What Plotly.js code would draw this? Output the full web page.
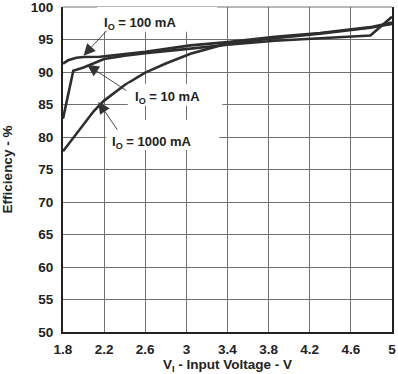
<!DOCTYPE html>
<html>
<head>
<meta charset="utf-8">
<script src="https://cdn.plot.ly/plotly-3.0.1.min.js"></script>
<style>html,body{margin:0;padding:0;background:#fff;}#chart{width:398px;height:374px;}</style>
</head>
<body>
<div id="chart"></div>
<script>
// Input voltage (V) and efficiency (%) for each output current
const v100 = [1.8, 1.85, 1.93, 2.0, 2.16, 2.6, 3.04, 3.4, 3.86, 4.3, 4.79, 5.0];
const e100 = [91.3, 91.8, 92.2, 92.3, 92.35, 93.1, 94.1, 94.6, 95.4, 96.0, 96.9, 97.6];

const v10 = [1.8, 1.9, 2.0, 2.1, 2.2, 2.4, 2.6, 3.04, 3.4, 3.86, 4.3, 4.79, 5.0];
const e10 = [82.8, 90.2, 90.7, 91.4, 92.0, 92.5, 92.9, 93.6, 94.2, 94.8, 95.2, 95.6, 98.5];

const v1000 = [1.8, 1.9, 2.0, 2.1, 2.2, 2.4, 2.6, 2.8, 3.04, 3.4, 3.86, 4.3, 4.79, 5.0];
const e1000 = [77.8, 79.9, 82.0, 84.0, 85.6, 88.0, 89.9, 91.3, 92.8, 94.4, 95.2, 95.9, 96.8, 97.4];

const xTicks = [1.8, 2.2, 2.6, 3, 3.4, 3.8, 4.2, 4.6, 5];
const xTickText = ['1.8', '2.2', '2.6', '3', '3.4', '3.8', '4.2', '4.6', '5'];
const yTicks = [50, 55, 60, 65, 70, 75, 80, 85, 90, 95, 100];

const labels = ['I<sub>O</sub> = 100 mA', 'I<sub>O</sub> = 10 mA', 'I<sub>O</sub> = 1000 mA'];

const lineStyle = {color: '#2e2e2e', width: 2.6};
const traces = [
  {x: v100, y: e100, name: labels[0], mode: 'lines', line: lineStyle},
  {x: v10, y: e10, name: labels[1], mode: 'lines', line: lineStyle},
  {x: v1000, y: e1000, name: labels[2], mode: 'lines', line: lineStyle}
];

const font = {family: '"Liberation Sans", Arial, sans-serif', size: 13.5, color: '#222', weight: 'bold'};
const labelFont = {family: '"Liberation Sans", Arial, sans-serif', size: 13, color: '#222', weight: 'bold'};

function arrow(x, y, ax, ay) {
  return {x: x, y: y, ax: ax, ay: ay, xref: 'x', yref: 'y', axref: 'x', ayref: 'y',
    text: '', showarrow: true, arrowhead: 2, arrowsize: 2.6, arrowwidth: 0.9, arrowcolor: '#333'};
}
function label(t, x, y) {
  return {x: x, y: y, xref: 'x', yref: 'y', text: t, showarrow: false,
    xanchor: 'left', yanchor: 'middle', font: labelFont};
}
function box(x0, x1, y0, y1) {
  return {type: 'rect', xref: 'x', yref: 'y', x0: x0, x1: x1, y0: y0, y1: y1,
    fillcolor: '#ffffff', line: {width: 0}, layer: 'above'};
}

const layout = {
  width: 398, height: 374,
  margin: {l: 63, r: 6, t: 7, b: 42},
  paper_bgcolor: '#fff', plot_bgcolor: '#fff',
  showlegend: false,
  font: font,
  xaxis: {
    range: [1.8, 5], tickvals: xTicks, ticktext: xTickText,
    showgrid: true, gridcolor: '#707070', gridwidth: 1,
    showline: true, linecolor: '#222', linewidth: 2, mirror: false,
    ticks: '', ticklabelstandoff: 4, zeroline: false,
    ticklabeloverflow: 'allow',
    tickfont: font,
    title: {text: 'V<sub>I</sub> - Input Voltage - V', font: font, standoff: 4}
  },
  yaxis: {
    range: [50, 100], tickvals: yTicks,
    showgrid: true, gridcolor: '#707070', gridwidth: 1,
    showline: true, linecolor: '#222', linewidth: 2, mirror: true,
    ticks: '', ticklabelstandoff: 5, zeroline: false,
    ticklabeloverflow: 'allow',
    tickfont: font,
    title: {text: 'Efficiency - %', font: font, standoff: 22}
  },
  shapes: [
    {type: 'line', xref: 'paper', yref: 'paper', x0: 0, x1: 1, y0: 1, y1: 1,
      line: {color: '#707070', width: 1}, layer: 'below'},
    box(2.13, 3.3, 96.2, 100.5),
    box(2.43, 3.35, 84.8, 88.2),
    box(2.22, 3.32, 78.0, 82.6)
  ],
  annotations: [
    arrow(2.0, 92.5, 2.238, 96.6),
    arrow(2.035, 91.1, 2.43, 87.0),
    arrow(2.143, 85.4, 2.338, 80.9),
    label(labels[0], 2.179, 97.4),
    label(labels[1], 2.481, 86.1),
    label(labels[2], 2.257, 79.2)
  ]
};

Plotly.newPlot('chart', traces, layout, {staticPlot: true, displayModeBar: false});
</script>
</body>
</html>
